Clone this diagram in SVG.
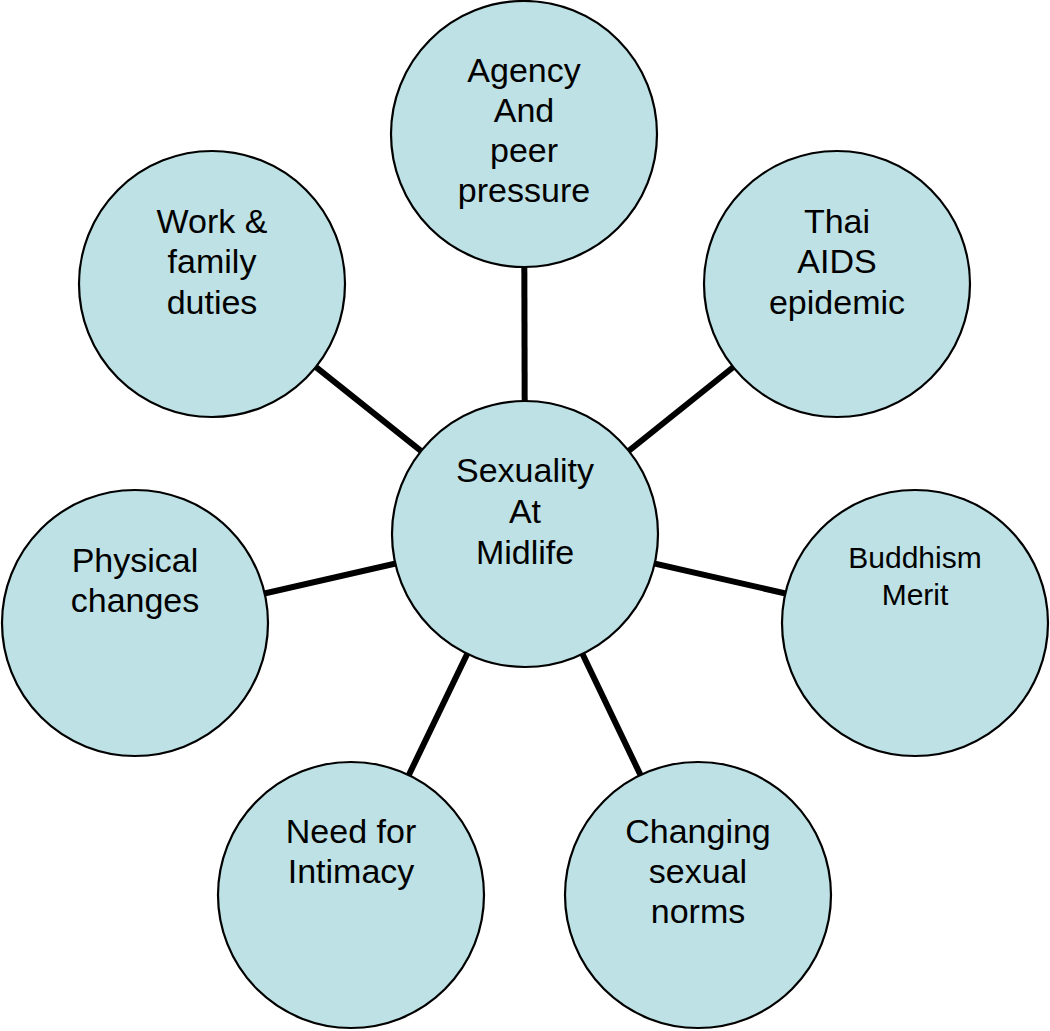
<svg xmlns="http://www.w3.org/2000/svg" width="1050" height="1031" viewBox="0 0 1050 1031">
<style>
.n{fill:#bde1e4;stroke:#000;stroke-width:2.2}
.t{font-family:"Liberation Sans",Arial,sans-serif;font-size:34px;fill:#000;text-anchor:middle}
.s{font-size:30px}
.c{stroke:#000;stroke-width:6;fill:none}
</style>
<rect width="1050" height="1031" fill="#fff"/>
<g id="connectors">
<line class="c" x1="525" y1="534" x2="524" y2="134"/>
<line class="c" x1="525" y1="534" x2="837" y2="284"/>
<line class="c" x1="525" y1="534" x2="915" y2="623"/>
<line class="c" x1="525" y1="534" x2="698" y2="895"/>
<line class="c" x1="525" y1="534" x2="351" y2="895"/>
<line class="c" x1="525" y1="534" x2="135" y2="623"/>
<line class="c" x1="525" y1="534" x2="212" y2="284"/>
</g>
<g id="center">
<circle class="n" cx="525" cy="534" r="133"/>
<text class="t"><tspan x="525" y="482">Sexuality</tspan><tspan x="525" y="523">At</tspan><tspan x="525" y="564">Midlife</tspan></text>
</g>
<g id="agency">
<circle class="n" cx="524" cy="134" r="133"/>
<text class="t"><tspan x="524" y="82">Agency</tspan><tspan x="524" y="122">And</tspan><tspan x="524" y="162">peer</tspan><tspan x="524" y="202">pressure</tspan></text>
</g>
<g id="thai">
<circle class="n" cx="837" cy="284" r="133"/>
<text class="t"><tspan x="837" y="233">Thai</tspan><tspan x="837" y="273">AIDS</tspan><tspan x="837" y="314">epidemic</tspan></text>
</g>
<g id="buddhism">
<circle class="n" cx="915" cy="623" r="133"/>
<text class="t s"><tspan x="915" y="568">Buddhism</tspan><tspan x="915" y="605">Merit</tspan></text>
</g>
<g id="changing">
<circle class="n" cx="698" cy="895" r="133"/>
<text class="t"><tspan x="698" y="843">Changing</tspan><tspan x="698" y="883">sexual</tspan><tspan x="698" y="923">norms</tspan></text>
</g>
<g id="intimacy">
<circle class="n" cx="351" cy="895" r="133"/>
<text class="t"><tspan x="351" y="843">Need for</tspan><tspan x="351" y="883">Intimacy</tspan></text>
</g>
<g id="physical">
<circle class="n" cx="135" cy="623" r="133"/>
<text class="t"><tspan x="135" y="572">Physical</tspan><tspan x="135" y="612">changes</tspan></text>
</g>
<g id="work">
<circle class="n" cx="212" cy="284" r="133"/>
<text class="t"><tspan x="212" y="233">Work &amp;</tspan><tspan x="212" y="273">family</tspan><tspan x="212" y="314">duties</tspan></text>
</g>
</svg>
